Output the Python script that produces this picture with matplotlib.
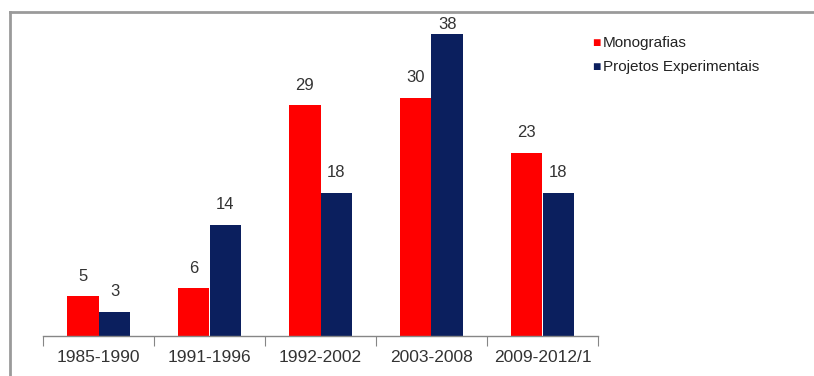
import matplotlib
matplotlib.use("Agg")
import matplotlib.pyplot as plt
import numpy as np
from matplotlib.lines import Line2D

categories = ["1985-1990", "1991-1996", "1992-2002", "2003-2008", "2009-2012/1"]
monografias = [5, 6, 29, 30, 23]
projetos = [3, 14, 18, 38, 18]
series_names = ["Monografias", "Projetos Experimentais"]
colors = ["#FF0000", "#0B1F5E"]

plt.rcParams['font.family'] = ['Liberation Sans', 'DejaVu Sans']

fig = plt.figure(figsize=(8.14, 3.76), dpi=100)
ax = fig.add_axes([43/814, 40/376, 555/814, 318/376])

x = np.arange(len(categories))
w = 0.288
for vals, off, col in [(monografias, -w/2, colors[0]), (projetos, w/2, colors[1])]:
    bars = ax.bar(x + off, vals, width=w, color=col, zorder=2)
    for b, v in zip(bars, vals):
        ax.text(b.get_x() + b.get_width()/2, min(v + 1.6, 38.3), str(v),
                ha='center', va='bottom', fontsize=12, color='#333333')

ax.set_xlim(-0.5, len(categories) - 0.5)
ax.set_ylim(0, 40)
ax.set_yticks([])
for s in ['top', 'right', 'left']:
    ax.spines[s].set_visible(False)
ax.spines['bottom'].set_color('#868686')
ax.spines['bottom'].set_linewidth(1.0)
ax.set_xticks(np.arange(len(categories) + 1) - 0.5, minor=False)
ax.set_xticklabels([])
ax.tick_params(axis='x', which='major', length=7, color='#868686', direction='out')
ax.set_xticks(x, minor=True)
ax.set_xticklabels(categories, minor=True, fontsize=12.5, color='#333333')
ax.tick_params(axis='x', which='minor', length=0, pad=10)

# outer chart frame (left and top edges visible)
fig.add_artist(Line2D([10/814, 10/814], [0, 1 - 12/376], transform=fig.transFigure,
                      color='#9a9a9a', lw=2))
fig.add_artist(Line2D([10/814, 1], [1 - 12/376, 1 - 12/376], transform=fig.transFigure,
                      color='#9a9a9a', lw=2))

# legend
for i, (name, col) in enumerate(zip(series_names, colors)):
    yy = 1 - (43 + 24*i)/376
    fig.text(592/814, yy, "\u25A0", color=col, fontsize=10, va='center', ha='left')
    fig.text(603/814, yy, name, color='#222222', fontsize=11, va='center', ha='left')

fig.savefig("out.png", dpi=100)
